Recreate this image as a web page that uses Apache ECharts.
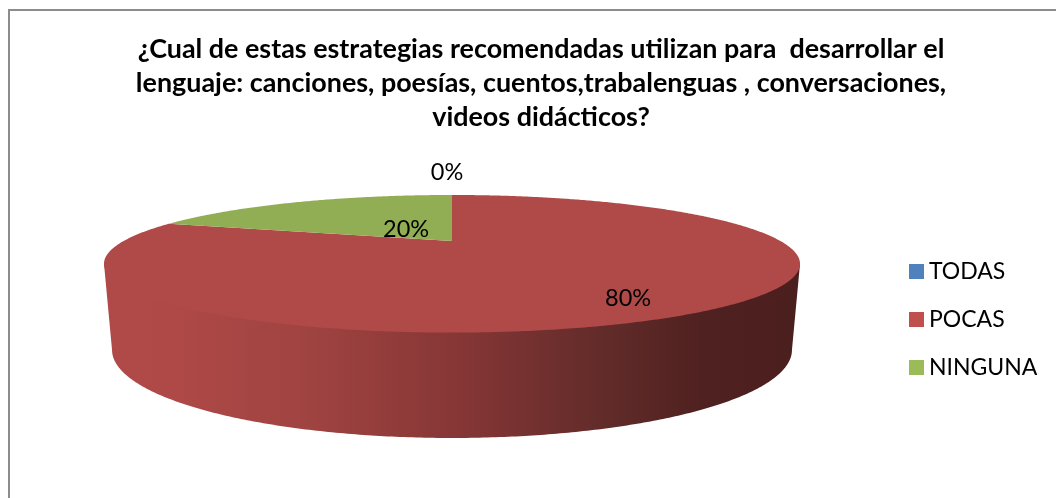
<!DOCTYPE html>
<html>
<head>
<meta charset="utf-8">
<style>html,body{margin:0;padding:0;background:#fff}#c{width:1056px;height:498px}</style>
<script src="https://cdn.jsdelivr.net/npm/echarts@6/dist/echarts.min.js"></script>
</head>
<body>
<div id="c"></div>
<script>
const titleText = '¿Cual de estas estrategias recomendadas utilizan para  desarrollar el\nlenguaje: canciones, poesías, cuentos,trabalenguas , conversaciones,\nvideos didácticos?';
const categories = ['TODAS', 'POCAS', 'NINGUNA'];
const values = [0, 80, 20];
const labels = ['0%', '80%', '20%'];
const legendColors = ['#4f81bd', '#c0504d', '#9bbb59'];
const faceColors = ['#4a7ab3', '#b04a48', '#91ae55'];

// Perspective model of the disc: a unit circle projected through a homography.
const CX = 452, K = 0.331;
const TOP = { X: 328.4, a: 241, b: 18.5 };
const BOTTOM = { X: 320.8, a: 320.8, b: 27.8 };
const WALL_FROM = 109.3, WALL_TO = 250.7;
// Label placement per slice: radius on the disc plus a pixel nudge.
const labelPlace = [[1, -5, -23], [0.73, 1, 12], [0.26, 1, 0]];

function project(plane, deg, r) {
  const t = deg * Math.PI / 180;
  const u = r * Math.sin(t), v = r * Math.cos(t), w = 1 + K * v;
  return [CX + plane.X * u / w, (plane.a + plane.b * v) / w];
}
function arc(plane, a0, a1, r) {
  const pts = [], n = Math.max(1, Math.ceil(Math.abs(a1 - a0) / 0.5));
  for (let i = 0; i <= n; i++) pts.push(project(plane, a0 + (a1 - a0) * i / n, r));
  return pts;
}
const total = values.reduce((s, v) => s + v, 0);
const wallFill = {
  type: 'linear', x: 104, y: 0, x2: 800, y2: 0, global: true,
  colorStops: [
    { offset: 0, color: '#b04a48' },
    { offset: 0.1, color: '#ae4947' },
    { offset: 0.3, color: '#9f4341' },
    { offset: 0.5, color: '#873736' },
    { offset: 0.71, color: '#632c2a' },
    { offset: 0.86, color: '#4f2120' },
    { offset: 1, color: '#4b1f1e' }
  ]
};

function sliceRender(index) {
  const before = values.slice(0, index).reduce((s, v) => s + v, 0);
  return function (params, api) {
    const value = api.value(0);
    const a0 = before / total * 360, a1 = (before + value) / total * 360;
    const children = [];
    const wa0 = Math.max(a0, WALL_FROM), wa1 = Math.min(a1, WALL_TO);
    if (wa1 > wa0) {
      // The wall's upper edge tucks slightly under the face so no seam shows.
      children.push({
        type: 'polygon', z2: 1, silent: true,
        shape: {
          points: [project(TOP, wa0, 1)]
            .concat(arc(TOP, wa0, wa1, 0.97))
            .concat([project(TOP, wa1, 1)])
            .concat(arc(BOTTOM, wa1, wa0, 1))
        },
        style: { fill: wallFill }
      });
    }
    if (a1 > a0) {
      children.push({
        type: 'polygon', z2: 2,
        shape: { points: [[CX, TOP.a]].concat(arc(TOP, a0, a1, 1)) },
        style: { fill: faceColors[index] }
      });
    }
    const mid = (a0 + a1) / 2, place = labelPlace[index];
    const p = project(TOP, mid, place[0]);
    children.push({
      type: 'text', z2: 5, silent: true,
      x: p[0] + place[1], y: p[1] + place[2],
      style: {
        text: labels[index], fill: '#000', fontFamily: 'Lato', fontSize: 23.5,
        align: 'center', verticalAlign: 'middle'
      }
    });
    return { type: 'group', children };
  };
}

const chart = echarts.init(document.getElementById('c'), null, { renderer: 'canvas' });
chart.setOption({
  animation: false,
  backgroundColor: '#fff',
  title: {
    text: titleText, left: 536, top: 27, textAlign: 'center',
    textStyle: { fontFamily: 'Lato', fontWeight: 'bold', fontSize: 26.9, lineHeight: 34, color: '#000' }
  },
  legend: {
    orient: 'vertical', left: 909, top: 260, padding: 0, icon: 'rect',
    itemWidth: 15, itemHeight: 15, itemGap: 25,
    data: categories.map((name, i) => ({ name, itemStyle: { color: legendColors[i] } })),
    textStyle: { fontFamily: 'Lato', fontSize: 23, lineHeight: 23, color: '#000' },
    selectedMode: false
  },
  graphic: [{
    type: 'rect', silent: true, z: -1,
    shape: { x: 9, y: 10, width: 1100, height: 540 },
    style: { fill: 'transparent', stroke: '#8c8c8c', lineWidth: 2 }
  }],
  series: categories.map((name, i) => ({
    type: 'custom', name, coordinateSystem: 'none',
    itemStyle: { color: legendColors[i] },
    data: [[values[i]]],
    renderItem: sliceRender(i)
  }))
});
</script>
</body>
</html>
